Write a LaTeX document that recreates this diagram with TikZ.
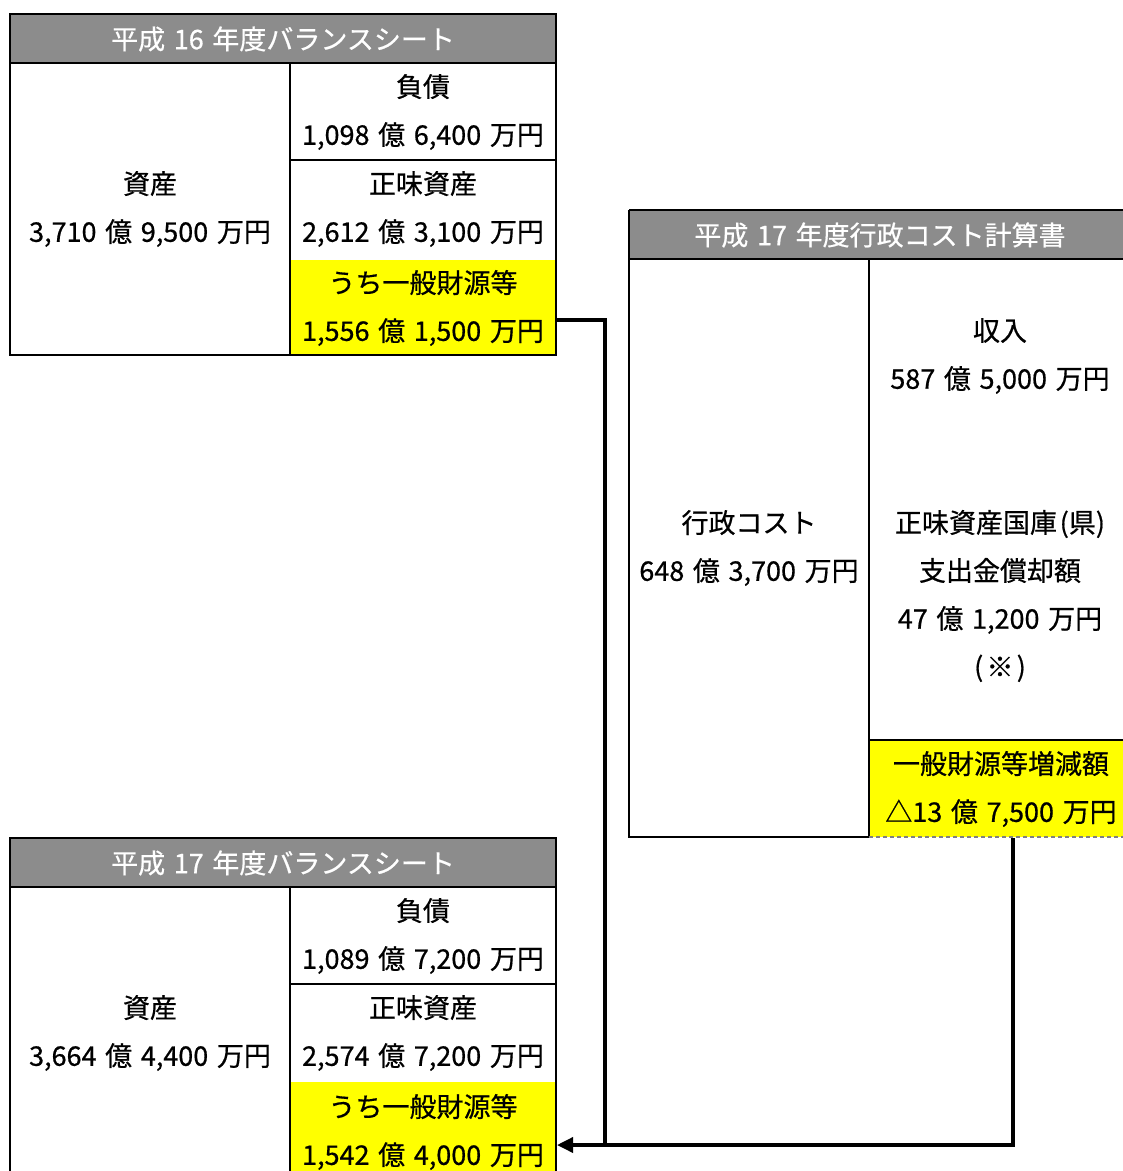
\documentclass[tikz,border=0pt]{standalone}
\usepackage{fontspec}
\newfontfamily\jp[FakeBold=0.6]{Noto Sans CJK JP}
\usetikzlibrary{arrows.meta}
\definecolor{hdr}{HTML}{8C8C8C}
\definecolor{ylw}{HTML}{FFFF00}
\newcommand\gp{\hspace{0.32em}}
\begin{document}
\begin{tikzpicture}[x=1pt,y=-1pt,
  frame/.style={draw=black,line width=2.5pt},
  txt/.style={font=\jp\fontsize{27}{48}\selectfont,align=center,inner sep=0pt,text=black},
  hdtxt/.style={font=\jp\fontsize{27}{30}\selectfont,inner sep=0pt,text=white},
  conn/.style={draw=black,line width=3.5pt},
  tip/.style={-{Triangle[length=16pt,width=15pt]}}]
\useasboundingbox (0,0) rectangle (1123,1171);
\fill[white] (0,0) rectangle (1123,1171);
% ---- H16 balance sheet
\fill[hdr] (10,14) rectangle (556,63);
\fill[ylw] (290,260) rectangle (556,355);
\draw[frame] (10,14) rectangle (556,355);
\draw[frame] (10,63) -- (556,63);
\draw[frame] (290,63) -- (290,355);
\draw[frame] (290,160) -- (556,160);
\node[hdtxt] (t1) at (283,39) {平成\gp{}16\gp{}年度バランスシート};
\node[txt] (a1) at (150,209) {資産\\3,710\gp{}億\gp{}9,500\gp{}万円};
\node[txt] (l1) at (423,112) {負債\\1,098\gp{}億\gp{}6,400\gp{}万円};
\node[txt] (n1) at (423,209) {正味資産\\2,612\gp{}億\gp{}3,100\gp{}万円};
\node[txt] (g1) at (423,308) {うち一般財源等\\1,556\gp{}億\gp{}1,500\gp{}万円};
% ---- H17 cost statement
\fill[hdr] (629,210) rectangle (1123,259);
\fill[ylw] (869,740) rectangle (1123,837);
\draw[frame] (629,210) -- (1123,210);
\draw[frame] (629,259) -- (1123,259);
\draw[frame] (629,210) -- (629,837) -- (869,837);
\draw[frame] (869,259) -- (869,837);
\draw[frame] (869,740) -- (1123,740);
\draw[gray,line width=1.2pt,dash pattern=on 4pt off 3pt] (869,837) -- (1123,837);
\node[hdtxt] (t3) at (880,235) {平成\gp{}17\gp{}年度行政コスト計算書};
\node[txt] (c3) at (749,548) {行政コスト\\648\gp{}億\gp{}3,700\gp{}万円};
\node[txt] (r3) at (1000,356) {収入\\587\gp{}億\gp{}5,000\gp{}万円};
\node[txt] (k3) at (1000,596) {正味資産国庫\hspace{0.1em}(県)\\支出金償却額\\47\gp{}億\gp{}1,200\gp{}万円\\(\hspace{0.12em}※\hspace{0.12em})};
\node[txt] (g3) at (1001,789) {一般財源等増減額\\△13\gp{}億\gp{}7,500\gp{}万円};
% ---- H17 balance sheet
\fill[hdr] (10,838) rectangle (556,887);
\fill[ylw] (290,1082) rectangle (556,1175);
\draw[frame] (10,1175) -- (10,838) -- (556,838) -- (556,1175);
\draw[frame] (10,887) -- (556,887);
\draw[frame] (290,887) -- (290,1175);
\draw[frame] (290,984) -- (556,984);
\node[hdtxt] (t2) at (283,863) {平成\gp{}17\gp{}年度バランスシート};
\node[txt] (a2) at (150,1033) {資産\\3,664\gp{}億\gp{}4,400\gp{}万円};
\node[txt] (l2) at (423,936) {負債\\1,089\gp{}億\gp{}7,200\gp{}万円};
\node[txt] (n2) at (423,1033) {正味資産\\2,574\gp{}億\gp{}7,200\gp{}万円};
\node[txt] (g2) at (423,1132) {うち一般財源等\\1,542\gp{}億\gp{}4,000\gp{}万円};
% ---- connectors
\coordinate (s1) at (557,320);
\coordinate (b1) at (605,320);
\coordinate (m1) at (605,1147);
\coordinate (s3) at (1013,838);
\coordinate (e2) at (557,1145);
\draw[conn,line join=miter] (s1) -- (b1) -- (m1);
\draw[conn,tip,line join=miter] (s3) |- (e2);
\end{tikzpicture}
\end{document}
